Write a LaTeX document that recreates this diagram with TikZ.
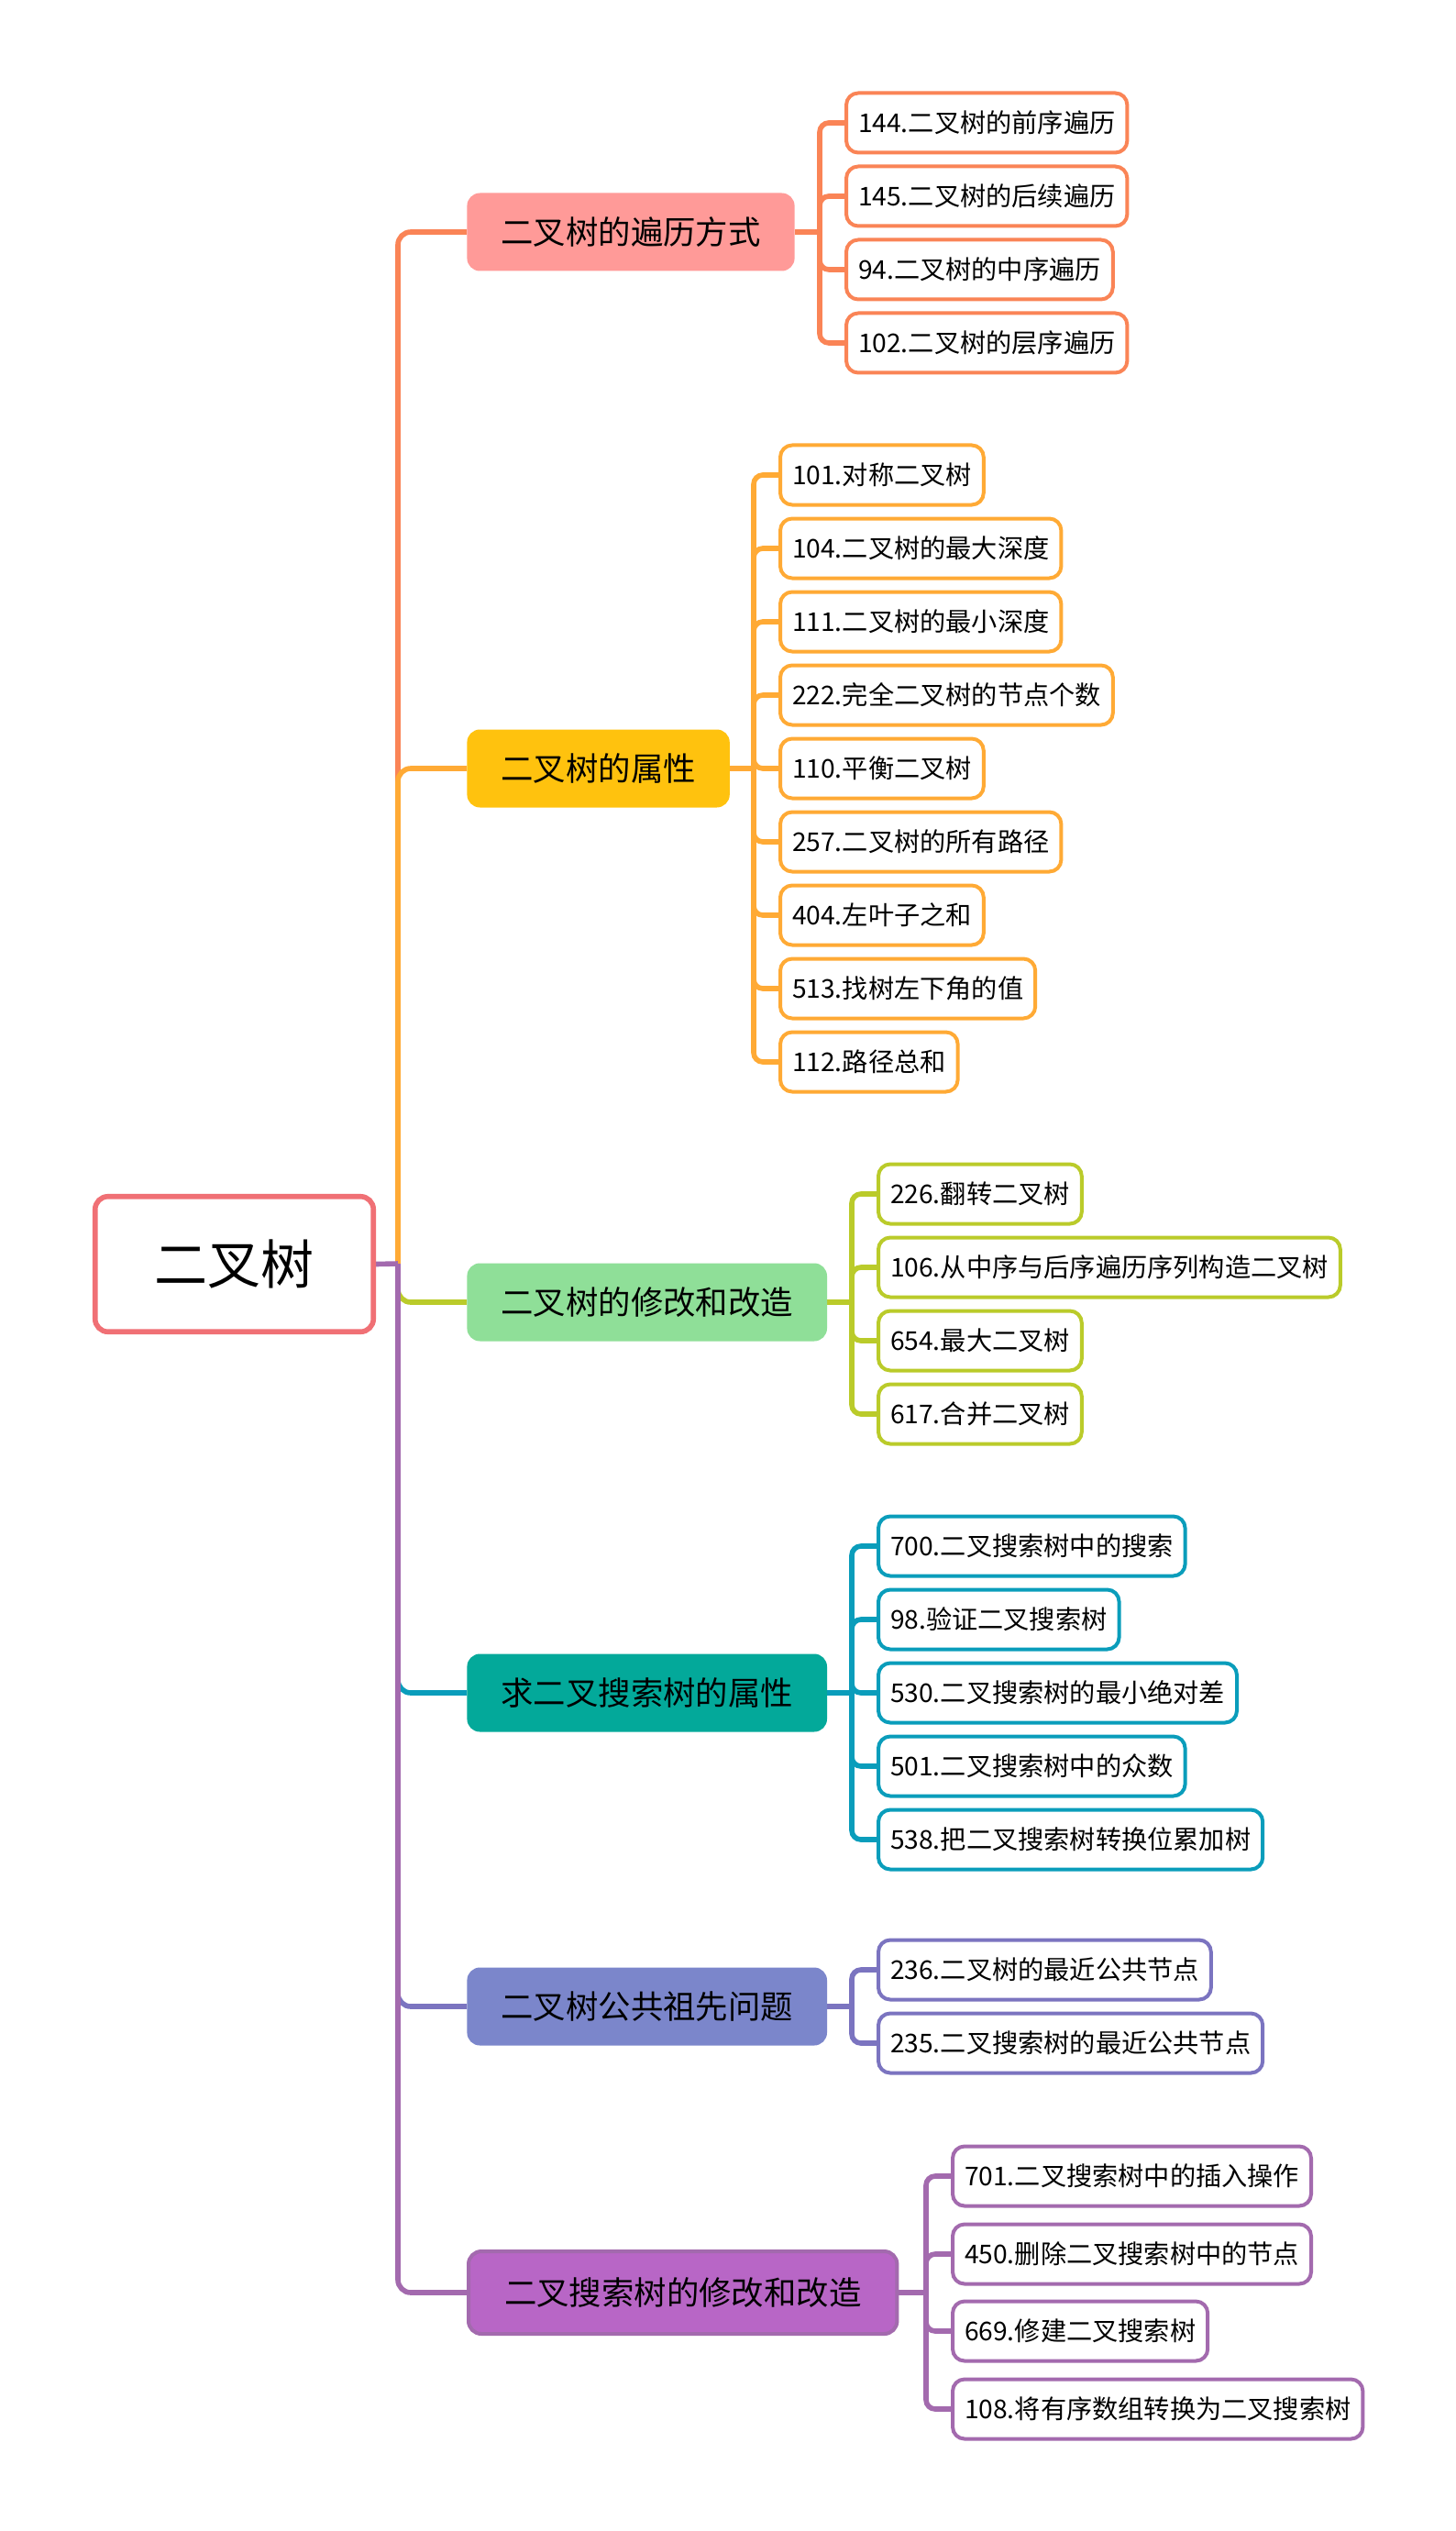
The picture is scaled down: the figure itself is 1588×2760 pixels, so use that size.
\documentclass[tikz,border=0pt]{standalone}
\usepackage{fontspec}
\newfontfamily\cjk{Noto Sans CJK SC}
\usetikzlibrary{backgrounds}
\definecolor{rootc}{HTML}{F07075}
\definecolor{fa}{HTML}{FF9A98}\definecolor{la}{HTML}{FA8456}
\definecolor{fb}{HTML}{FFC20E}\definecolor{lb}{HTML}{FFAA35}
\definecolor{fc}{HTML}{8FDF98}\definecolor{lc}{HTML}{BACB2A}
\definecolor{fd}{HTML}{03A99A}\definecolor{ld}{HTML}{0A9DBB}
\definecolor{fe}{HTML}{7B86CB}\definecolor{le}{HTML}{7B74C0}
\definecolor{ff}{HTML}{B866C6}\definecolor{lf}{HTML}{A36AAE}
\newcommand\ct[2]{{\cjk #1#2}}
\begin{document}
\begin{tikzpicture}[x=0.5pt,y=-0.5pt,
  leaf/.style={draw=#1, fill=white, line width=2pt, rounded corners=6.5pt,
    minimum height=32.5pt, inner xsep=6.5pt, inner ysep=0pt, anchor=west,
    text=black, font=\fontsize{14.1}{17}\selectfont},
  branch/.style={fill=#1, rounded corners=7pt, minimum height=42.5pt,
    inner xsep=18.5pt, anchor=west, text=black, font=\cjk\fontsize{17.7}{21}\selectfont},
  trunk/.style={draw=#1, line width=2.8pt, rounded corners=7pt},
  twig/.style={draw=#1, line width=2.8pt, rounded corners=5pt}]
\useasboundingbox (0,0) rectangle (1588,2760);

% root
\node[draw=rootc, line width=2.8pt, rounded corners=7pt, minimum width=151.75pt,
  minimum height=73.75pt, text=black, font=\cjk\fontsize{29}{34}\selectfont]
  (root) at (255.5,1378.5) {二叉树};
\coordinate (t) at (434,1378);

% branches
\node[branch=fa] (b1) at (509,253) {二叉树的遍历方式};
\node[branch=fb] (b2) at (509,838) {二叉树的属性};
\node[branch=fc] (b3) at (509,1420) {二叉树的修改和改造};
\node[branch=fd] (b4) at (509,1846) {求二叉搜索树的属性};
\node[branch=fe] (b5) at (509,2188) {二叉树公共祖先问题};
\node[branch=ff, draw=lf, line width=2pt, minimum height=45pt, inner xsep=19.5pt] (b6) at (509,2500) {二叉搜索树的修改和改造};

% junctions
\coordinate (j1) at (894,253);
\coordinate (j2) at (822,838);
\coordinate (j3) at (929,1420);
\coordinate (j4) at (929,1846);
\coordinate (j5) at (929,2188);
\coordinate (j6) at (1010,2500);

% leaves B1
\node[leaf=la] (a1) at (921,134) {\ct{144.}{二叉树的前序遍历}};
\node[leaf=la] (a2) at (921,214) {\ct{145.}{二叉树的后续遍历}};
\node[leaf=la] (a3) at (921,294) {\ct{94.}{二叉树的中序遍历}};
\node[leaf=la] (a4) at (921,374) {\ct{102.}{二叉树的层序遍历}};
% leaves B2
\node[leaf=lb] (p1) at (849,518) {\ct{101.}{对称二叉树}};
\node[leaf=lb] (p2) at (849,598) {\ct{104.}{二叉树的最大深度}};
\node[leaf=lb] (p3) at (849,678) {\ct{111.}{二叉树的最小深度}};
\node[leaf=lb] (p4) at (849,758) {\ct{222.}{完全二叉树的节点个数}};
\node[leaf=lb] (p5) at (849,838) {\ct{110.}{平衡二叉树}};
\node[leaf=lb] (p6) at (849,918) {\ct{257.}{二叉树的所有路径}};
\node[leaf=lb] (p7) at (849,998) {\ct{404.}{左叶子之和}};
\node[leaf=lb] (p8) at (849,1078) {\ct{513.}{找树左下角的值}};
\node[leaf=lb] (p9) at (849,1158) {\ct{112.}{路径总和}};
% leaves B3
\node[leaf=lc] (m1) at (956,1302) {\ct{226.}{翻转二叉树}};
\node[leaf=lc] (m2) at (956,1382) {\ct{106.}{从中序与后序遍历序列构造二叉树}};
\node[leaf=lc] (m3) at (956,1462) {\ct{654.}{最大二叉树}};
\node[leaf=lc] (m4) at (956,1542) {\ct{617.}{合并二叉树}};
% leaves B4
\node[leaf=ld] (s1) at (956,1686) {\ct{700.}{二叉搜索树中的搜索}};
\node[leaf=ld] (s2) at (956,1766) {\ct{98.}{验证二叉搜索树}};
\node[leaf=ld] (s3) at (956,1846) {\ct{530.}{二叉搜索树的最小绝对差}};
\node[leaf=ld] (s4) at (956,1926) {\ct{501.}{二叉搜索树中的众数}};
\node[leaf=ld] (s5) at (956,2006) {\ct{538.}{把二叉搜索树转换位累加树}};
% leaves B5
\node[leaf=le] (g1) at (956,2148) {\ct{236.}{二叉树的最近公共节点}};
\node[leaf=le] (g2) at (956,2228) {\ct{235.}{二叉搜索树的最近公共节点}};
% leaves B6
\node[leaf=lf] (r1) at (1037,2373) {\ct{701.}{二叉搜索树中的插入操作}};
\node[leaf=lf] (r2) at (1037,2458) {\ct{450.}{删除二叉搜索树中的节点}};
\node[leaf=lf] (r3) at (1037,2542) {\ct{669.}{修建二叉搜索树}};
\node[leaf=lf] (r4) at (1037,2627) {\ct{108.}{将有序数组转换为二叉搜索树}};

\begin{scope}[on background layer]
\fill[white] (0,0) rectangle (1588,2760);
% trunk
\draw[trunk=la] (t) |- (b1.west);
\draw[trunk=lb] (t) |- (b2.west);
\draw[trunk=lc] (t) |- (b3.west);
\draw[trunk=ld] (t) |- (b4.west);
\draw[trunk=le] (t) |- (b5.west);
\draw[trunk=lf] (t) |- (b6.west);
\draw[trunk=lf] (root.east) -- (t);
% stubs
\draw[twig=la] (b1.east) -- (j1);
\draw[twig=lb] (b2.east) -- (j2);
\draw[twig=lc] (b3.east) -- (j3);
\draw[twig=ld] (b4.east) -- (j4);
\draw[twig=le] (b5.east) -- (j5);
\draw[twig=lf] (b6.east) -- (j6);
% twigs
\foreach \n in {a1,a2,a3,a4} \draw[twig=la] (j1) |- (\n.west);
\foreach \n in {p1,p2,p3,p4,p5,p6,p7,p8,p9} \draw[twig=lb] (j2) |- (\n.west);
\foreach \n in {m1,m2,m3,m4} \draw[twig=lc] (j3) |- (\n.west);
\foreach \n in {s1,s2,s3,s4,s5} \draw[twig=ld] (j4) |- (\n.west);
\foreach \n in {g1,g2} \draw[twig=le] (j5) |- (\n.west);
\foreach \n in {r1,r2,r3,r4} \draw[twig=lf] (j6) |- (\n.west);
\end{scope}
\end{tikzpicture}
\end{document}
